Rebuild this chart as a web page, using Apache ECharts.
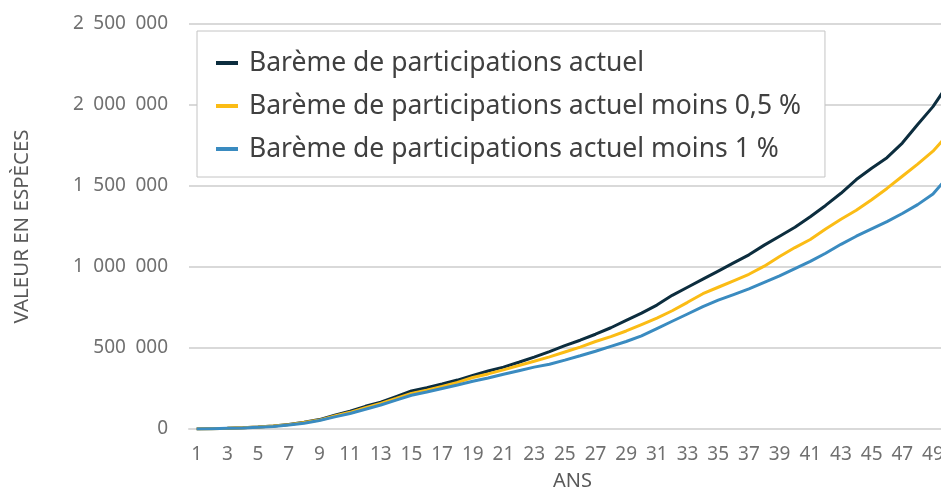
<!DOCTYPE html>
<html lang="fr">
<head>
    <meta charset="UTF-8">
    <title>Valeur en espèces</title>
    <script src="https://cdn.jsdelivr.net/npm/echarts@6.0.0/dist/echarts.min.js"></script>
    <style>
        html, body { margin: 0; padding: 0; background: #fff; }
    </style>
</head>
<body>
    <div id="chart" style="width: 941px; height: 488px;"></div>

    <script>
        // années 1 à 50
        const annees = [];
        for (let i = 1; i <= 50; i++) annees.push(String(i));

        // valeurs (en milliers)
        const baremeActuel = [
            0, 2, 4, 8, 13, 19, 28, 42, 58, 85,
            110, 140, 165, 200, 235, 255, 278, 302, 330, 358,
            382, 412, 444, 478, 515, 548, 585, 625, 670, 715,
            765, 825, 875, 925, 975, 1025, 1075, 1135, 1190, 1245,
            1310, 1380, 1455, 1540, 1610, 1675, 1765, 1880, 1990, 2130
        ];
        const baremeMoins05 = [
            0, 2, 4, 7, 12, 18, 27, 40, 55, 80,
            103, 132, 158, 188, 220, 240, 263, 288, 318, 340,
            365, 392, 418, 445, 475, 505, 540, 570, 605, 645,
            685, 730, 782, 835, 875, 915, 955, 1005, 1065, 1120,
            1170, 1235, 1295, 1350, 1415, 1485, 1560, 1635, 1715, 1820
        ];
        const baremeMoins1 = [
            0, 2, 4, 6, 11, 16, 25, 36, 52, 75,
            96, 122, 148, 178, 208, 228, 250, 272, 295, 315,
            338, 360, 382, 400, 425, 452, 480, 510, 540, 575,
            620, 665, 710, 755, 795, 830, 865, 905, 945, 990,
            1035, 1085, 1140, 1190, 1235, 1280, 1330, 1385, 1450, 1560
        ];

        const nomsSeries = [
            'Barème de participations actuel',
            'Barème de participations actuel moins 0,5 %',
            'Barème de participations actuel moins 1 %'
        ];
        const couleurs = ['#0c2d3e', '#fbbc15', '#3a8bc0'];

        const toEuros = arr => arr.map(v => v * 1000);

        function formatNombre(v) {
            return String(v).replace(/\B(?=(\d{3})+(?!\d))/g, '\u2002');
        }

        const myChart = echarts.init(document.getElementById('chart'));

        const option = {
            animation: false,
            color: couleurs,
            textStyle: { fontFamily: 'Noto Sans' },
            grid: {
                left: 189,
                right: -15,
                top: 24,
                bottom: 59,
                outerBoundsMode: 'none',
                containLabel: false
            },
            legend: {
                orient: 'vertical',
                left: 197,
                top: 31,
                padding: [17, 24, 13, 19],
                borderColor: '#c4c4c4',
                borderWidth: 1,
                backgroundColor: '#fff',
                icon: 'rect',
                itemWidth: 22,
                itemHeight: 4,
                itemGap: 13,
                textStyle: {
                    fontSize: 26.5,
                    lineHeight: 30,
                    color: '#404040',
                    padding: [0, 0, 0, 6]
                },
                data: nomsSeries
            },
            xAxis: {
                type: 'category',
                data: annees,
                boundaryGap: true,
                name: 'ANS',
                nameLocation: 'middle',
                nameGap: 42,
                nameTextStyle: { fontSize: 20, color: '#595959' },
                axisLine: { lineStyle: { color: '#d9d9d9', width: 2 } },
                axisTick: { show: false },
                axisLabel: {
                    interval: 1,
                    fontSize: 19,
                    color: '#707070',
                    margin: 16
                }
            },
            yAxis: {
                type: 'value',
                min: 0,
                max: 2500000,
                interval: 500000,
                name: 'VALEUR EN ESPÈCES',
                nameLocation: 'middle',
                nameGap: 156,
                nameTextStyle: { fontSize: 20.5, color: '#595959' },
                axisLine: { show: false },
                axisTick: { show: false },
                splitLine: { lineStyle: { color: '#d9d9d9', width: 2 } },
                axisLabel: {
                    fontSize: 19,
                    color: '#707070',
                    margin: 21,
                    formatter: formatNombre
                }
            },
            series: [
                {
                    name: nomsSeries[0],
                    type: 'line',
                    data: toEuros(baremeActuel),
                    symbol: 'none',
                    lineStyle: { width: 3 }
                },
                {
                    name: nomsSeries[1],
                    type: 'line',
                    data: toEuros(baremeMoins05),
                    symbol: 'none',
                    lineStyle: { width: 3 }
                },
                {
                    name: nomsSeries[2],
                    type: 'line',
                    data: toEuros(baremeMoins1),
                    symbol: 'none',
                    lineStyle: { width: 3 }
                }
            ]
        };

        myChart.setOption(option);
    </script>
</body>
</html>
